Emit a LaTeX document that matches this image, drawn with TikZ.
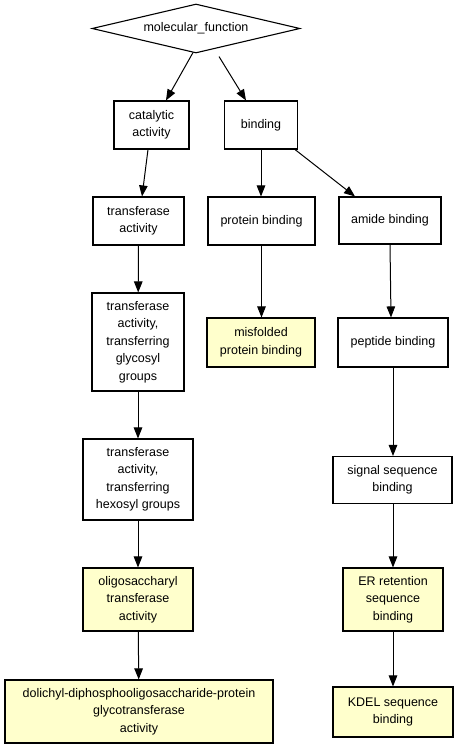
\documentclass[tikz,border=0pt]{standalone}
\usepackage{fontspec}
\setmainfont{Liberation Sans}
\usetikzlibrary{shapes.geometric,arrows.meta}
\definecolor{hl}{HTML}{FFFFCC}
\tikzset{
  term/.style={draw=black, line width=1.1pt, rectangle, inner sep=0pt, align=center,
    font=\fontsize{12.5}{17.5}\selectfont},
  leaf/.style={term, fill=hl},
  edge/.style={line width=1pt, -{Triangle[length=11pt,width=8.5pt]}},
}
\newcommand{\bx}[6]{\node[#1, minimum width=#4pt, minimum height=#5pt] (#2) at (#3) {#6};}
\begin{document}
\begin{tikzpicture}[x=1pt,y=-1pt]
\useasboundingbox[fill=white] (0,0) rectangle (459,749);
\node[draw=black, line width=1.1pt, diamond, aspect=4.2, minimum width=208pt, minimum height=49pt,
  inner sep=0pt, font=\fontsize{12.5}{17.5}\selectfont] (mf) at (196,28.5) {molecular\_function};
\bx{term}{cat}{151.5,125}{75}{48}{catalytic\\activity}
\bx{term}{bind}{261,125}{73}{48}{binding}
\bx{term}{ta}{138.5,221}{91}{48}{transferase\\activity}
\bx{term}{pb}{261.5,221}{107}{48}{protein binding}
\bx{term}{ab}{390,220.5}{102}{47}{amide binding}
\bx{term}{tag}{138,342}{92}{98}{transferase\\activity,\\transferring\\glycosyl\\groups}
\bx{leaf}{mpb}{261,342.5}{108}{49}{misfolded\\protein binding}
\bx{term}{pep}{393,342.5}{110}{49}{peptide binding}
\bx{term}{tah}{138,479.5}{110}{81}{transferase\\activity,\\transferring\\hexosyl groups}
\bx{term}{ssb}{392.5,480}{119}{47}{signal sequence\\binding}
\bx{leaf}{osa}{138,599.5}{110}{63}{oligosaccharyl\\transferase\\activity}
\bx{leaf}{er}{393,599.5}{100}{63}{ER retention\\sequence\\binding}
\bx{leaf}{dol}{139,711.5}{268}{63}{dolichyl-diphosphooligosaccharide-protein\\glycotransferase\\activity}
\bx{leaf}{kdel}{393,712}{120}{50}{KDEL sequence\\binding}
\draw[edge] ([xshift=-3pt,yshift=1pt]mf.south) -- ([xshift=14.5pt]cat.north);
\draw[edge] ([xshift=23pt,yshift=-3pt]mf.south) -- ([xshift=-15pt]bind.north);
\draw[edge] ([xshift=-3.5pt]cat.south) -- ([xshift=3.5pt]ta.north);
\draw[edge] (ta) -- (tag);
\draw[edge] (tag) -- (tah);
\draw[edge] (tah) -- (osa);
\draw[edge] (osa) -- (dol);
\draw[edge] (bind) -- (bind|-pb.north);
\draw[edge] ([xshift=34pt]bind.south) -- ([xshift=-35pt]ab.north);
\draw[edge] (pb) -- (pb|-mpb.north);
\draw[edge] (ab.south) -- ([xshift=-2pt]pep.north);
\draw[edge] (pep) -- (pep|-ssb.north);
\draw[edge] (ssb.south-|er) -- (er);
\draw[edge] (er) -- (kdel);
\end{tikzpicture}
\end{document}
